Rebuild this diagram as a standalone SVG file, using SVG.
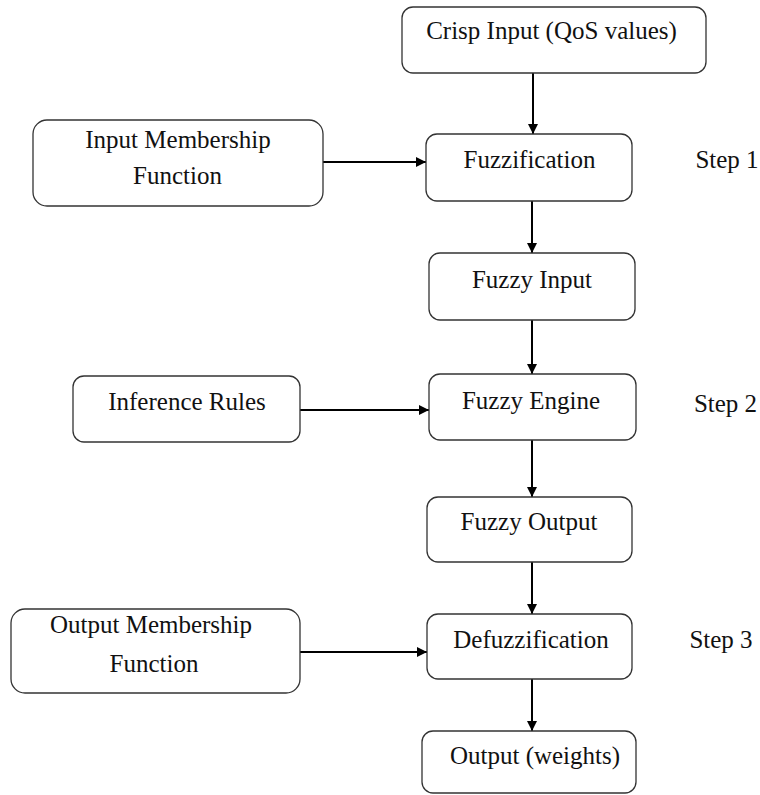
<svg xmlns="http://www.w3.org/2000/svg" width="760" height="795" viewBox="0 0 760 795">
<defs>
<style>
.box{fill:#fff;stroke:#333;stroke-width:1.3}
.t{font-family:"Liberation Serif","Times New Roman",serif;font-size:25px;fill:#111;text-anchor:middle}
.c{stroke:#000;stroke-width:2;fill:none;marker-end:url(#ah)}
</style>
<marker id="ah" markerWidth="12" markerHeight="12" refX="10" refY="5" orient="auto" markerUnits="userSpaceOnUse">
<path d="M0,0 L10,5 L0,10 Z" fill="#000"/>
</marker>
</defs>
<rect width="760" height="795" fill="#fff"/>
<g id="connectors">
<line class="c" x1="533" y1="73" x2="533" y2="134"/>
<line class="c" x1="323" y1="162" x2="426" y2="162"/>
<line class="c" x1="532" y1="201" x2="532" y2="253"/>
<line class="c" x1="532" y1="320" x2="532" y2="374"/>
<line class="c" x1="300" y1="410" x2="429" y2="410"/>
<line class="c" x1="532" y1="440" x2="532" y2="497"/>
<line class="c" x1="532" y1="562" x2="532" y2="614"/>
<line class="c" x1="300" y1="652" x2="427" y2="652"/>
<line class="c" x1="532" y1="679" x2="532" y2="731"/>
</g>
<g id="crisp"><rect class="box" x="402" y="7" width="304" height="66" rx="11"/><text class="t" x="551.5" y="39">Crisp Input (QoS values)</text></g>
<g id="fuzzification"><rect class="box" x="426" y="134" width="206" height="67" rx="11"/><text class="t" x="529.5" y="168">Fuzzification</text></g>
<g id="imf"><rect class="box" x="33" y="120" width="290" height="86" rx="14"/><text class="t" x="178" y="148">Input Membership</text><text class="t" x="177.5" y="184">Function</text></g>
<g id="step1"><text class="t" x="727" y="168">Step 1</text></g>
<g id="fuzzyinput"><rect class="box" x="429" y="253" width="206" height="67" rx="11"/><text class="t" x="532" y="288">Fuzzy Input</text></g>
<g id="inference"><rect class="box" x="73" y="376" width="227" height="66" rx="11"/><text class="t" x="187" y="410">Inference Rules</text></g>
<g id="engine"><rect class="box" x="429" y="374" width="207" height="66" rx="11"/><text class="t" x="531" y="409">Fuzzy Engine</text></g>
<g id="step2"><text class="t" x="725.5" y="412">Step 2</text></g>
<g id="fuzzyoutput"><rect class="box" x="427" y="497" width="205" height="65" rx="11"/><text class="t" x="529" y="530">Fuzzy Output</text></g>
<g id="omf"><rect class="box" x="11" y="609" width="289" height="84" rx="14"/><text class="t" x="151" y="633">Output Membership</text><text class="t" x="154" y="672">Function</text></g>
<g id="defuzz"><rect class="box" x="427" y="614" width="205" height="65" rx="11"/><text class="t" x="531" y="648">Defuzzification</text></g>
<g id="step3"><text class="t" x="721" y="648">Step 3</text></g>
<g id="output"><rect class="box" x="422" y="731" width="214" height="62" rx="11"/><text class="t" x="535" y="764">Output (weights)</text></g>
</svg>
